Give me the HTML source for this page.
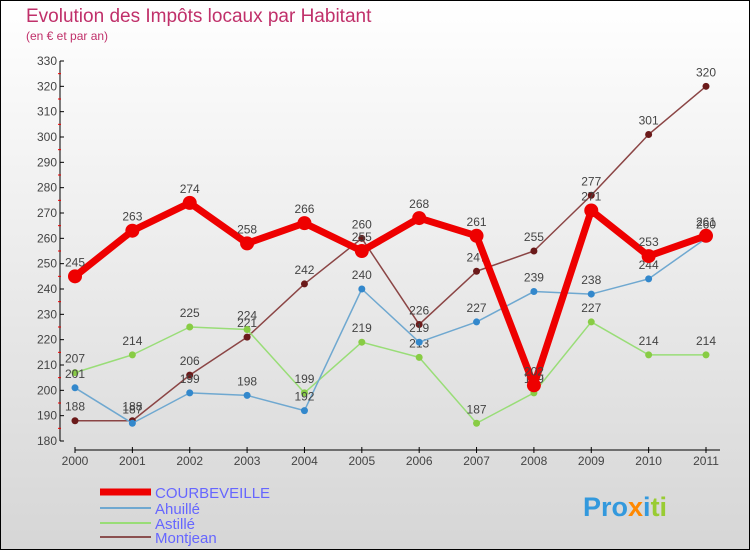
<!DOCTYPE html>
<html><head><meta charset="utf-8"><style>
body{margin:0;width:750px;height:550px;overflow:hidden}
svg{display:block;font-family:"Liberation Sans",sans-serif}
</style></head><body>
<svg width="750" height="550">
<defs><linearGradient id="bg" x1="0" y1="0" x2="0" y2="1"><stop offset="0" stop-color="#ffffff"/><stop offset="1" stop-color="#d6d6d6"/></linearGradient></defs>
<rect x="0.5" y="0.5" width="749" height="549" fill="url(#bg)" stroke="#000"/>
<text x="26" y="22" font-size="19" fill="#c0306a">Evolution des Impôts locaux par Habitant</text>
<text x="26" y="40" font-size="12" fill="#c0306a">(en € et par an)</text>
<g id="axes"></g>
<g id="series"></g>
<g>
<line x1="100" y1="492" x2="151" y2="492" stroke="#ee0000" stroke-width="7"/>
<text x="155" y="498" font-size="15" fill="#6666ff">COURBEVEILLE</text>
<line x1="100" y1="508" x2="151" y2="508" stroke="#6fa8d0" stroke-width="2"/>
<text x="155" y="514" font-size="15" fill="#6666ff">Ahuillé</text>
<line x1="100" y1="523" x2="151" y2="523" stroke="#99dd77" stroke-width="2"/>
<text x="155" y="529" font-size="15" fill="#6666ff">Astillé</text>
<line x1="100" y1="537" x2="151" y2="537" stroke="#8b5050" stroke-width="2"/>
<text x="155" y="543" font-size="15" fill="#6666ff">Montjean</text>
</g>
<text x="583" y="516" font-size="27" font-weight="bold"><tspan fill="#3399dd">Pro</tspan><tspan fill="#ff8800">x</tspan><tspan fill="#3399dd">i</tspan><tspan fill="#99cc33">ti</tspan></text>
</svg>
<script>
const years=["2000","2001","2002","2003","2004","2005","2006","2007","2008","2009","2010","2011"];
const yTicks=[180,190,200,210,220,230,240,250,260,270,280,290,300,310,320,330];
const courbeveille=[245,263,274,258,266,255,268,261,202,271,253,261];
const ahuille=[201,187,199,198,192,240,219,227,239,238,244,260];
const astille=[207,214,225,224,199,219,213,187,199,227,214,214];
const montjean=[188,188,206,221,242,260,226,247,255,277,301,320];
const NS="http://www.w3.org/2000/svg";
const x=i=>75+i*(706-75)/11;
const y=v=>441-(v-180)*(441-61)/150;
function mk(t,a,p){const e=document.createElementNS(NS,t);for(const k in a)e.setAttribute(k,a[k]);p.appendChild(e);return e;}
const ax=document.getElementById('axes');
let e=mk('line',{x1:60,y1:61,x2:60,y2:441,stroke:'#000'},ax);


e=mk('line',{x1:75,y1:450,x2:720,y2:450,stroke:'#000'},ax);


yTicks.forEach((v,i)=>{
 let t=mk('line',{x1:60,y1:y(v),x2:64,y2:y(v),stroke:'#000'},ax);
 
 
 if(i<yTicks.length-1){let m=mk('line',{x1:58,y1:y(v+5),x2:61,y2:y(v+5),stroke:'#e00'},ax);
 
 }
 let l=mk('text',{x:57,y:y(v)+4,'font-size':12,fill:'#444','text-anchor':'end'},ax);l.textContent=v;
 
 
});
years.forEach((yr,i)=>{
 let t=mk('line',{x1:x(i),y1:447,x2:x(i),y2:453,stroke:'#000'},ax);
 
 
 let l=mk('text',{x:x(i),y:465,'font-size':12,fill:'#444','text-anchor':'middle'},ax);l.textContent=yr;
 
 
});
const sg=document.getElementById('series');
function series(data,name,color,w,r,pc){
 const g=mk('g',{},sg);
 
 
 let p=mk('polyline',{points:data.map((v,i)=>x(i)+','+y(v)).join(' '),fill:'none',stroke:color,'stroke-width':w,'stroke-linejoin':'round'},g);
 
 
 data.forEach((v,i)=>{
  let c=mk('circle',{cx:x(i),cy:y(v),r:r,fill:pc},g);
  
  
  let l=mk('text',{x:x(i),y:y(v)-10,'font-size':12,fill:'#444','text-anchor':'middle'},g);l.textContent=v;
  
  
 });
}
series(montjean,'montjean','#8b4545',1.5,3.5,'#6b1a1a');
series(astille,'astille','#99dd77',1.5,3.5,'#88cc44');
series(ahuille,'ahuille','#6fa8d0',1.5,3.5,'#3388cc');
series(courbeveille,'courbeveille','#ee0000',7,7,'#ee0000');
</script>
</body></html>
